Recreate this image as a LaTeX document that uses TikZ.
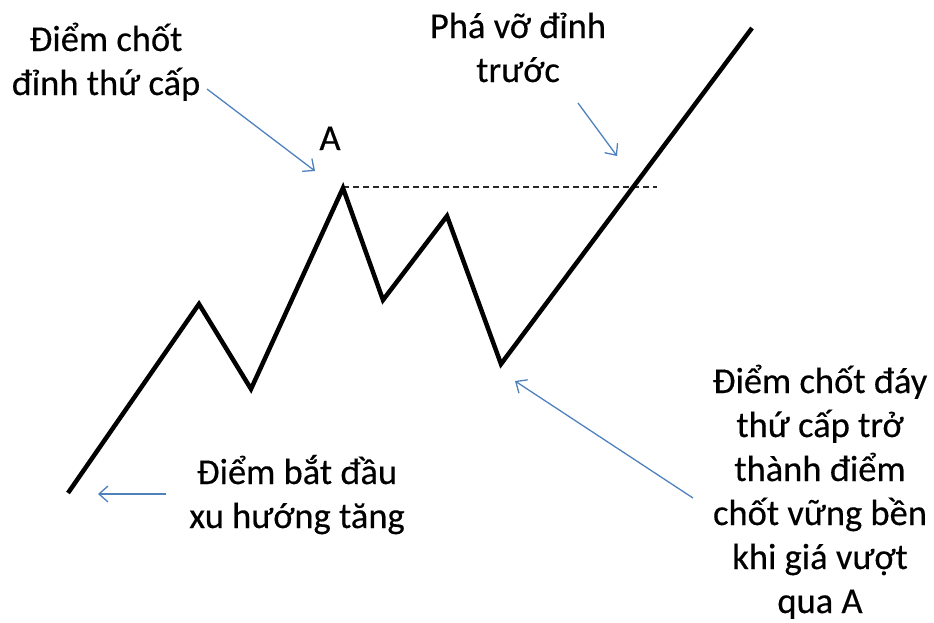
\documentclass[tikz,border=0pt]{standalone}
\usepackage{fontspec}
\setmainfont{Carlito}
\newfontface\lblfont{Carlito}[FakeBold=0.35]
\usetikzlibrary{arrows.meta}
\definecolor{arrowblue}{RGB}{79,129,189}
\definecolor{dashgray}{RGB}{40,40,40}
\tikzset{
  trend/.style={line width=4.5pt, black, line join=miter},
  pointer/.style={arrowblue, line width=1.3pt, -{Straight Barb[length=9pt,width=16pt,line width=1.3pt]}},
  level/.style={dashgray, line width=1.4pt, dash pattern=on 6pt off 4pt},
  lbl/.style={font=\lblfont\fontsize{36.5}{44}\selectfont, align=center, inner sep=0pt, anchor=base, text=black},
}
\begin{document}
\begin{tikzpicture}[x=1pt,y=-1pt]
\useasboundingbox (0,0) rectangle (934,622);
% price path points
\coordinate (p0) at (68,493);
\coordinate (p1) at (199,304);
\coordinate (p2) at (251,389);
\coordinate (pA) at (343,188);
\coordinate (p4) at (383,300);
\coordinate (p5) at (447,216);
\coordinate (p6) at (501,364);
\coordinate (p7) at (752,28);
\coordinate (dashstart) at (343,187);
\coordinate (dashend) at (657,187);
\draw[level] (dashstart) -- (dashend);
\draw[trend] (p0) -- (p1) -- (p2) -- (pA) -- (p4) -- (p5) -- (p6) -- (p7);
% labels
\node[lbl] (t1) at (106,95) {Điểm chốt\\đỉnh thứ cấp};
\node[lbl] (tA) at (330,150) {A};
\node[lbl] (t2) at (518,82) {Phá vỡ đỉnh\\trước};
\node[lbl] (t3) at (297,528) {Điểm bắt đầu\\xu hướng tăng};
\node[lbl] (t4) at (820,613) {Điểm chốt đáy\\thứ cấp trở\\thành điểm\\chốt vững bền\\khi giá vượt\\qua A};
% arrow anchors
\coordinate (a1s) at (207,89);
\coordinate (a1e) at (315,171);
\coordinate (a2s) at (578,103);
\coordinate (a2e) at (617,156);
\coordinate (a3s) at (166,494);
\coordinate (a3e) at (98,494);
\coordinate (a4s) at (693,498);
\coordinate (a4e) at (515,381);
\draw[pointer] (a1s) -- (a1e);
\draw[pointer] (a2s) -- (a2e);
\draw[pointer] (a3s) -- (a3e);
\draw[pointer] (a4s) -- (a4e);
\end{tikzpicture}
\end{document}
